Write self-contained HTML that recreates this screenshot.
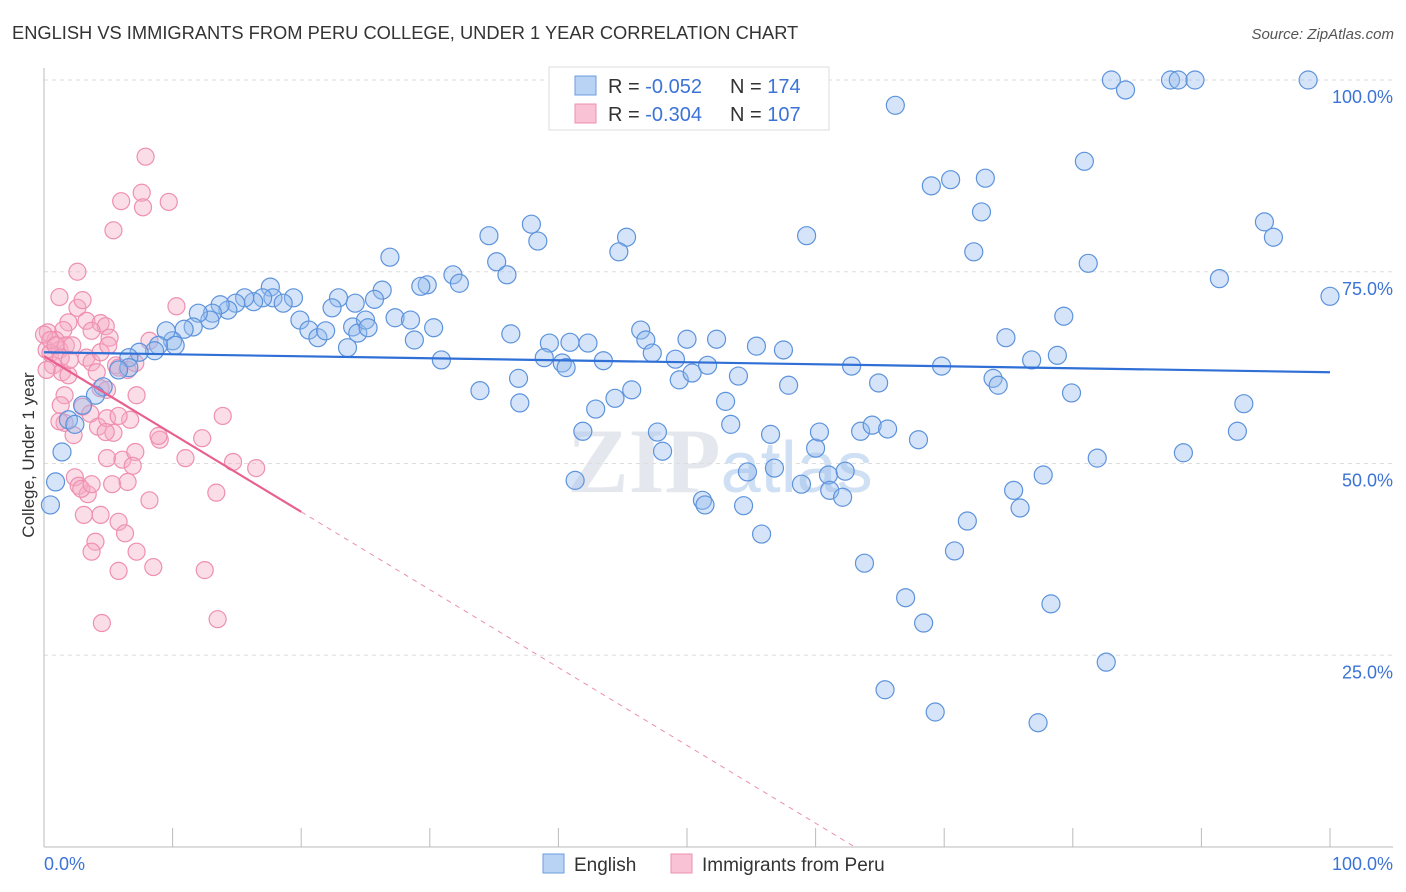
<!DOCTYPE html>
<html><head><meta charset="utf-8"><style>
body{margin:0;background:#fff;font-family:"Liberation Sans",sans-serif;}
svg{display:block}
</style></head><body>
<svg id="chart" width="1406" height="892">
<text x="12" y="39" font-size="18.3" fill="#333">ENGLISH VS IMMIGRANTS FROM PERU COLLEGE, UNDER 1 YEAR CORRELATION CHART</text>
<text x="1394" y="39" font-size="15" fill="#555" font-style="italic" text-anchor="end">Source: ZipAtlas.com</text>
<text x="720" y="492" font-size="92" fill="#e4e8ee" text-anchor="middle" font-family="Liberation Serif,serif" font-weight="bold">ZIP<tspan fill="#cfe0f4" font-family="Liberation Sans,sans-serif" font-weight="normal" font-size="72">atlas</tspan></text>
<g id="grid"></g>
<g id="marks"></g>
<text x="34" y="455" font-size="17" fill="#333" text-anchor="middle" transform="rotate(-90 34 455)">College, Under 1 year</text>
<text x="44" y="870" font-size="18" fill="#3b73d6">0.0%</text>
<text x="1393" y="870" font-size="18" fill="#3b73d6" text-anchor="end">100.0%</text>
<g>
<rect x="549" y="67" width="280" height="63" fill="#fff" stroke="#ddd"/>
<rect x="575" y="76" width="21" height="19" fill="#b9d3f4" stroke="#6b9ee0"/>
<rect x="575" y="104" width="21" height="19" fill="#f9c3d5" stroke="#ee8fb0"/>
<text x="608" y="93" font-size="20" fill="#333">R = <tspan fill="#3b73d6">-0.052</tspan></text>
<text x="730" y="93" font-size="20" fill="#333">N = <tspan fill="#3b73d6">174</tspan></text>
<text x="608" y="121" font-size="20" fill="#333">R = <tspan fill="#3b73d6">-0.304</tspan></text>
<text x="730" y="121" font-size="20" fill="#333">N = <tspan fill="#3b73d6">107</tspan></text>
</g>
<g>
<rect x="543" y="854" width="21" height="19" fill="#b9d3f4" stroke="#6b9ee0"/>
<text x="574" y="871" font-size="19" fill="#333">English</text>
<rect x="671" y="854" width="21" height="19" fill="#f9c3d5" stroke="#ee8fb0"/>
<text x="702" y="871" font-size="19" fill="#333">Immigrants from Peru</text>
</g>
</svg>
<script>
const yTicks=[25,50,75,100];
const yTickLabels=["25.0%","50.0%","75.0%","100.0%"];
const xTicks=[0,10,20,30,40,50,60,70,80,90,100];
const blueX=[83.0,84.1,87.6,88.2,89.5,98.3,66.2,80.9,69.0,70.5,73.2,72.9,94.9,95.6,59.3,37.9,38.4,34.6,45.3,44.7,26.9,72.3,81.2,91.4,100,35.2,36.0,31.8,32.3,29.8,29.3,26.3,25.7,24.2,22.9,22.4,19.4,17.6,17.8,18.6,19.9,17.0,16.3,15.6,14.9,14.3,13.7,13.1,12.9,12.0,11.6,10.9,10.0,9.5,10.2,8.9,8.6,7.4,6.6,6.6,5.8,4.6,4.0,3.0,1.9,2.4,1.4,0.9,0.5,20.6,21.3,21.9,23.6,24.0,24.4,25.0,25.2,27.3,28.5,28.8,30.3,30.9,33.9,36.3,36.9,39.3,38.9,40.3,40.9,40.6,42.3,42.9,43.5,44.4,45.7,46.4,46.8,47.3,47.7,48.1,49.1,49.4,50.0,50.4,51.6,52.3,53.0,53.4,54.0,54.7,54.4,51.2,51.4,55.8,56.5,56.8,55.4,57.5,57.9,58.9,60.0,60.3,61.0,61.1,62.1,62.3,62.8,63.5,64.4,64.9,65.6,63.8,67.0,68.0,68.4,65.4,69.3,69.8,70.8,71.8,73.8,74.2,74.8,75.4,75.9,76.8,77.7,77.3,78.3,78.8,79.3,79.9,81.9,82.6,88.6,92.8,93.3,41.9,41.3,37.0];
const blueY=[100,98.7,100,100,100,100,96.7,89.4,86.2,87.0,87.2,82.8,81.5,79.5,79.7,81.2,79.0,79.7,79.5,77.6,76.9,77.6,76.1,74.1,71.8,76.3,74.6,74.6,73.5,73.3,73.1,72.6,71.4,70.9,71.6,70.3,71.6,73.0,71.6,70.9,68.7,71.6,71.1,71.6,70.9,70.0,70.7,69.6,68.7,69.6,67.8,67.5,66.0,67.3,65.4,65.4,64.7,64.5,63.8,62.5,62.2,60.0,58.9,57.6,55.7,55.1,51.5,47.6,44.6,67.4,66.4,67.3,65.1,67.8,67.0,68.7,67.7,69.0,68.7,66.1,67.7,63.5,59.5,66.9,61.1,65.7,63.8,63.1,65.8,62.5,65.7,57.1,63.4,58.5,59.6,67.4,66.1,64.4,54.1,51.6,63.6,60.9,66.2,61.8,62.8,66.2,58.1,55.1,61.4,48.9,44.5,45.2,44.6,40.8,53.8,49.4,65.3,64.8,60.2,47.3,52.0,54.1,48.5,46.5,45.6,49.0,62.7,54.2,55.0,60.5,54.5,37.0,32.5,53.1,29.2,20.5,17.6,62.7,38.6,42.5,61.1,60.2,66.4,46.5,44.2,63.5,48.5,16.2,31.7,64.1,69.2,59.2,50.7,24.1,51.4,54.2,57.8,54.2,47.8,57.9];
const pinkX=[7.9,7.6,7.7,9.7,6.0,5.4,2.6,1.2,2.6,10.3,3.3,1.9,1.5,0.3,0.9,4.4,4.8,5.1,3.7,8.2,0.2,0.5,1.2,1.7,2.2,0.7,1.4,1.9,3.3,3.7,4.4,4.1,4.4,5.6,6.5,7.1,4.9,1.6,1.3,3.0,3.6,4.2,4.9,5.4,6.7,7.2,1.6,2.3,1.2,4.8,5.8,13.9,9.0,8.9,4.9,6.1,7.1,6.9,12.3,11.0,2.4,2.7,3.4,2.9,3.7,5.3,6.5,8.2,13.4,14.7,16.5,3.1,4.4,5.8,6.3,4.0,3.7,7.2,8.5,5.8,12.5,4.5,13.5,0,0.5,0.9,1.3,2.0,0.2,3.0,5.0,5.8];
const pinkY=[90.0,85.3,83.4,84.1,84.2,80.4,75.0,71.7,70.3,70.5,68.6,68.4,67.4,67.1,66.1,68.3,67.9,66.4,67.3,66.0,64.8,64.4,64.8,65.4,65.4,62.8,61.9,61.5,63.8,63.2,64.5,61.9,59.8,62.8,62.2,63.1,59.6,58.9,57.6,57.4,56.5,54.8,55.9,54.0,55.7,58.9,55.3,53.7,55.5,54.1,56.2,56.2,53.1,53.6,50.7,50.5,51.5,49.7,53.3,50.7,48.2,47.1,46.0,46.7,47.3,47.3,47.6,45.2,46.2,50.2,49.4,43.3,43.3,42.4,40.9,39.8,38.5,38.5,36.5,36.0,36.1,29.2,29.7,66.8,66.1,65.4,63.8,63.5,62.2,71.3,65.4,62.5];
const blueTrend=[64.5,61.9];
const pinkTrend=[64.0,43.7];
const NS="http://www.w3.org/2000/svg";
const X0=44,X1=1330,Y0=847,Y1=80;
function sx(v){return X0+(X1-X0)*v/100;}
function sy(v){return Y0-(Y0-Y1)*v/100;}
function mk(tag,attrs,parent){const e=document.createElementNS(NS,tag);for(const k in attrs)e.setAttribute(k,attrs[k]);parent.appendChild(e);return e;}
const grid=document.getElementById('grid'),marks=document.getElementById('marks');
yTicks.forEach((t,i)=>{
  const l=mk('line',{x1:X0,x2:1393,y1:sy(t),y2:sy(t),stroke:'#ddd','stroke-dasharray':'4,4'},grid);
  
  
  const tx=mk('text',{x:1393,y:sy(t)+23,'font-size':18,fill:'#3b73d6','text-anchor':'end'},grid);
  tx.textContent=yTickLabels[i];
  
  
});
const ax=mk('line',{x1:X0,x2:1393,y1:Y0,y2:Y0,stroke:'#bbb'},grid);


const ay=mk('line',{x1:X0,x2:X0,y1:68,y2:Y0,stroke:'#bbb'},grid);


xTicks.forEach(t=>{
  const l=mk('line',{x1:sx(t),x2:sx(t),y1:828,y2:Y0,stroke:'#bbb'},grid);
  
  
});
pinkX.forEach((x,i)=>{
  const c=mk('circle',{cx:sx(x),cy:sy(pinkY[i]),r:8.5,fill:'rgba(246,170,196,0.4)',stroke:'#ef8fb1','stroke-width':1.2},marks);
  
  
});
blueX.forEach((x,i)=>{
  const c=mk('circle',{cx:sx(x),cy:sy(blueY[i]),r:9,fill:'rgba(150,188,238,0.4)',stroke:'#5d93dc','stroke-width':1.2},marks);
  
  
});
const bl=mk('line',{x1:sx(0),y1:sy(blueTrend[0]),x2:sx(100),y2:sy(blueTrend[1]),stroke:'#2f6fd6','stroke-width':2.2},marks);


const slope=(pinkTrend[1]-pinkTrend[0])/20;
const xz=-pinkTrend[0]/slope;
const pl=mk('line',{x1:sx(0),y1:sy(pinkTrend[0]),x2:sx(20),y2:sy(pinkTrend[1]),stroke:'#e8608f','stroke-width':2.2},marks);


const pd=mk('line',{x1:sx(20),y1:sy(pinkTrend[1]),x2:sx(xz),y2:sy(0),stroke:'#eb8fae','stroke-width':1,'stroke-dasharray':'5,5'},marks);


</script>
</body></html>
